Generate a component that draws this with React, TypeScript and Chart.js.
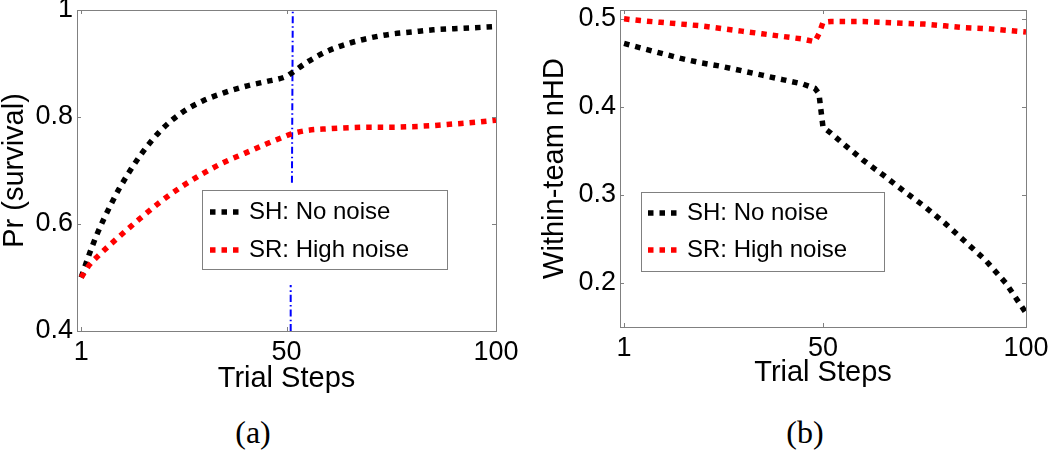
import { useEffect, useRef } from "react";
import Chart from "chart.js/auto";

// panel (a): survival probability
const leftSteps = [1, 3, 5, 8, 10, 15, 20, 25, 30, 35, 40, 45, 50, 51, 55, 60, 65, 70, 75, 80, 85, 90, 95, 100];
const leftNoNoise = [0.5, 0.545, 0.585, 0.635, 0.665, 0.727, 0.775, 0.808, 0.83, 0.845, 0.857, 0.866, 0.876, 0.881, 0.903, 0.924, 0.938, 0.948, 0.955, 0.959, 0.963, 0.965, 0.967, 0.969];
const leftHighNoise = [0.5, 0.524, 0.54, 0.562, 0.576, 0.61, 0.642, 0.67, 0.694, 0.715, 0.732, 0.749, 0.765, 0.768, 0.775, 0.778, 0.78, 0.781, 0.781, 0.782, 0.784, 0.787, 0.79, 0.794];
// vertical marker at step 51 (hidden behind the legend in the middle)
const markerSteps = [51, 51, 51, 51.3, 51.5];
const markerValues = [0.4, 0.486, null, 0.677, 1];

// panel (b): within-team nHD
const rightSteps = [1, 5, 10, 15, 20, 25, 30, 35, 40, 45, 48, 49, 50, 52, 55, 60, 65, 70, 75, 80, 85, 90, 95, 100];
const rightNoNoise = [0.472, 0.467, 0.461, 0.455, 0.45, 0.446, 0.441, 0.436, 0.431, 0.426, 0.421, 0.415, 0.377, 0.37, 0.358, 0.339, 0.322, 0.304, 0.287, 0.268, 0.247, 0.226, 0.2, 0.166];
const rightHighNoise = [0.5, 0.498, 0.496, 0.494, 0.492, 0.489, 0.486, 0.483, 0.48, 0.477, 0.474, 0.483, 0.496, 0.497, 0.497, 0.497, 0.496, 0.495, 0.494, 0.492, 0.49, 0.489, 0.487, 0.485];

const xTicks = [1, 50, 100];
const leftYTicks = [0.4, 0.6, 0.8, 1];
const rightYTicks = [0.2, 0.3, 0.4, 0.5];
const legendLabels = ["SH: No noise", "SR: High noise"];

const FONT = "'Liberation Sans', Arial, Helvetica, sans-serif";
const FRAME = "#808080";
const DOTS = [5.5, 6];

const toPoints = (xs: number[], ys: (number | null)[]) => xs.map((x, i) => ({ x, y: ys[i] }));

// axes box with inward tick marks on all four sides, like MATLAB
const framePlugin = {
  id: "matlabFrame",
  afterDatasetsDraw(chart: any) {
    const { ctx, chartArea: a, scales } = chart;
    const len = 4;
    ctx.save();
    ctx.strokeStyle = FRAME;
    ctx.lineWidth = 1;
    ctx.setLineDash([]);
    ctx.strokeRect(Math.round(a.left) + 0.5, Math.round(a.top) + 0.5, Math.round(a.right - a.left), Math.round(a.bottom - a.top));
    ctx.beginPath();
    scales.x.ticks.forEach((t: any) => {
      const px = Math.round(scales.x.getPixelForValue(t.value)) + 0.5;
      ctx.moveTo(px, a.bottom);
      ctx.lineTo(px, a.bottom - len);
      ctx.moveTo(px, a.top);
      ctx.lineTo(px, a.top + len);
    });
    scales.y.ticks.forEach((t: any) => {
      const py = Math.round(scales.y.getPixelForValue(t.value)) + 0.5;
      ctx.moveTo(a.left, py);
      ctx.lineTo(a.left + len, py);
      ctx.moveTo(a.right, py);
      ctx.lineTo(a.right - len, py);
    });
    ctx.stroke();
    ctx.restore();
  },
};

// boxed legend placed inside the plot
const legendPlugin = {
  id: "insetLegend",
  afterDraw(chart: any, _args: any, opts: any) {
    const { ctx } = chart;
    ctx.save();
    ctx.fillStyle = "#fff";
    ctx.fillRect(opts.left, opts.top, opts.width, opts.height);
    ctx.strokeStyle = FRAME;
    ctx.lineWidth = 1;
    ctx.strokeRect(opts.left + 0.5, opts.top + 0.5, opts.width, opts.height);
    const items = chart.data.datasets.filter((d: any) => legendLabels.includes(d.label));
    items.forEach((ds: any, i: number) => {
      const y = opts.rows[i];
      ctx.beginPath();
      ctx.setLineDash(ds.borderDash || []);
      ctx.lineCap = "butt";
      ctx.strokeStyle = ds.borderColor;
      ctx.lineWidth = ds.borderWidth;
      ctx.moveTo(opts.sampleX, y);
      ctx.lineTo(opts.sampleX + opts.sampleLen, y);
      ctx.stroke();
      ctx.setLineDash([]);
      ctx.fillStyle = "#000";
      ctx.font = `24px ${FONT}`;
      ctx.textBaseline = "middle";
      ctx.textAlign = "left";
      ctx.fillText(ds.label, opts.textX, y);
    });
    ctx.restore();
  },
};

interface PanelProps {
  datasets: any[];
  yMin: number;
  yMax: number;
  yTicks: number[];
  yTitle: string;
  yAxisWidth: number;
  yTitlePad: number;
  xAxisHeight: number;
  padBottom: number;
  smooth: boolean;
  legend: any;
}

function Panel(p: PanelProps) {
  const chartRef = useRef<HTMLCanvasElement>(null);
  const chartInstance = useRef<Chart | null>(null);

  useEffect(() => {
    if (!chartRef.current) return;
    if (chartInstance.current) chartInstance.current.destroy();

    chartInstance.current = new Chart(chartRef.current, {
      type: "line",
      data: {
        datasets: p.datasets.map((d) => ({
          ...d,
          pointRadius: 0,
          fill: false,
          cubicInterpolationMode: p.smooth ? "monotone" : "default",
          tension: 0,
          borderCapStyle: "butt",
        })),
      },
      options: {
        animation: false,
        responsive: true,
        maintainAspectRatio: false,
        events: [],
        layout: { padding: { top: 10, right: 24, bottom: p.padBottom, left: 0 } },
        plugins: {
          legend: { display: false },
          tooltip: { enabled: false },
          insetLegend: p.legend,
        } as any,
        scales: {
          x: {
            type: "linear",
            min: 0,
            max: 100,
            afterBuildTicks: (s: any) => {
              s.ticks = xTicks.map((v) => ({ value: v }));
            },
            afterFit: (s: any) => {
              s.height = p.xAxisHeight;
              s.paddingLeft = 0;
              s.paddingRight = 0;
            },
            grid: { display: false, drawTicks: false },
            border: { display: false },
            ticks: {
              color: "#000",
              font: { family: FONT, size: 27 },
              padding: 5,
              maxRotation: 0,
              autoSkip: false,
              callback: (v: any) => String(v),
            },
            title: {
              display: true,
              text: "Trial Steps",
              color: "#000",
              font: { family: FONT, size: 29, lineHeight: 1 },
              padding: 0,
            },
          },
          y: {
            type: "linear",
            min: p.yMin,
            max: p.yMax,
            afterBuildTicks: (s: any) => {
              s.ticks = p.yTicks.map((v) => ({ value: v }));
            },
            afterFit: (s: any) => {
              s.width = p.yAxisWidth;
              s.paddingTop = 0;
              s.paddingBottom = 0;
            },
            grid: { display: false, drawTicks: false },
            border: { display: false },
            ticks: {
              color: "#000",
              font: { family: FONT, size: 27 },
              padding: 4,
              autoSkip: false,
              callback: (v: any) => String(Math.round(Number(v) * 10) / 10),
            },
            title: {
              display: true,
              text: p.yTitle,
              color: "#000",
              font: { family: FONT, size: 29, lineHeight: 1 },
              padding: { top: p.yTitlePad, bottom: 0 },
            },
          },
        },
      },
      plugins: [framePlugin, legendPlugin],
    });

    return () => {
      if (chartInstance.current) {
        chartInstance.current.destroy();
        chartInstance.current = null;
      }
    };
  }, []);

  return <canvas ref={chartRef}></canvas>;
}

const captionStyle = (cx: number): React.CSSProperties => ({
  position: "absolute",
  left: cx - 60,
  top: 412,
  width: 120,
  height: 40,
  lineHeight: "40px",
  textAlign: "center",
  fontFamily: "'Liberation Serif', 'Times New Roman', serif",
  fontSize: 32,
  color: "#000",
});

export default function App() {
  const leftData = [
    { label: "", data: toPoints(markerSteps, markerValues), borderColor: "#0000ff", borderWidth: 2, borderDash: [7, 3, 1.5, 3], order: 2, spanGaps: false },
    { label: legendLabels[0], data: toPoints(leftSteps, leftNoNoise), borderColor: "#000000", borderWidth: 5.5, borderDash: DOTS, order: 1 },
    { label: legendLabels[1], data: toPoints(leftSteps, leftHighNoise), borderColor: "#ff0000", borderWidth: 5.5, borderDash: DOTS, order: 0 },
  ];
  const rightData = [
    { label: legendLabels[0], data: toPoints(rightSteps, rightNoNoise), borderColor: "#000000", borderWidth: 5.5, borderDash: DOTS, order: 1 },
    { label: legendLabels[1], data: toPoints(rightSteps, rightHighNoise), borderColor: "#ff0000", borderWidth: 5.5, borderDash: DOTS, order: 0 },
  ];

  return (
    <div style={{ position: "absolute", left: 0, top: 0, width: 1050, height: 450, background: "#fff" }}>
      <div style={{ position: "absolute", left: 0, top: 0, width: 520, height: 400 }}>
        <Panel
          datasets={leftData}
          yMin={0.4}
          yMax={1}
          yTicks={leftYTicks}
          yTitle="Pr (survival)"
          yAxisWidth={77}
          yTitlePad={0}
          xAxisHeight={62}
          padBottom={7}
          smooth={true}
          legend={{ left: 202, top: 190, width: 245, height: 79, sampleX: 210, sampleLen: 30, textX: 249, rows: [212, 250] }}
        />
      </div>
      <div style={{ position: "absolute", left: 530, top: 0, width: 520, height: 400 }}>
        <Panel
          datasets={rightData}
          yMin={0.15}
          yMax={0.51}
          yTicks={rightYTicks}
          yTitle="Within-team nHD"
          yAxisWidth={90}
          yTitlePad={10}
          xAxisHeight={60}
          padBottom={13}
          smooth={false}
          legend={{ left: 111, top: 192, width: 243, height: 79, sampleX: 118, sampleLen: 30, textX: 157, rows: [213, 250] }}
        />
      </div>
      <div style={captionStyle(253)}>(a)</div>
      <div style={captionStyle(805)}>(b)</div>
    </div>
  );
}
